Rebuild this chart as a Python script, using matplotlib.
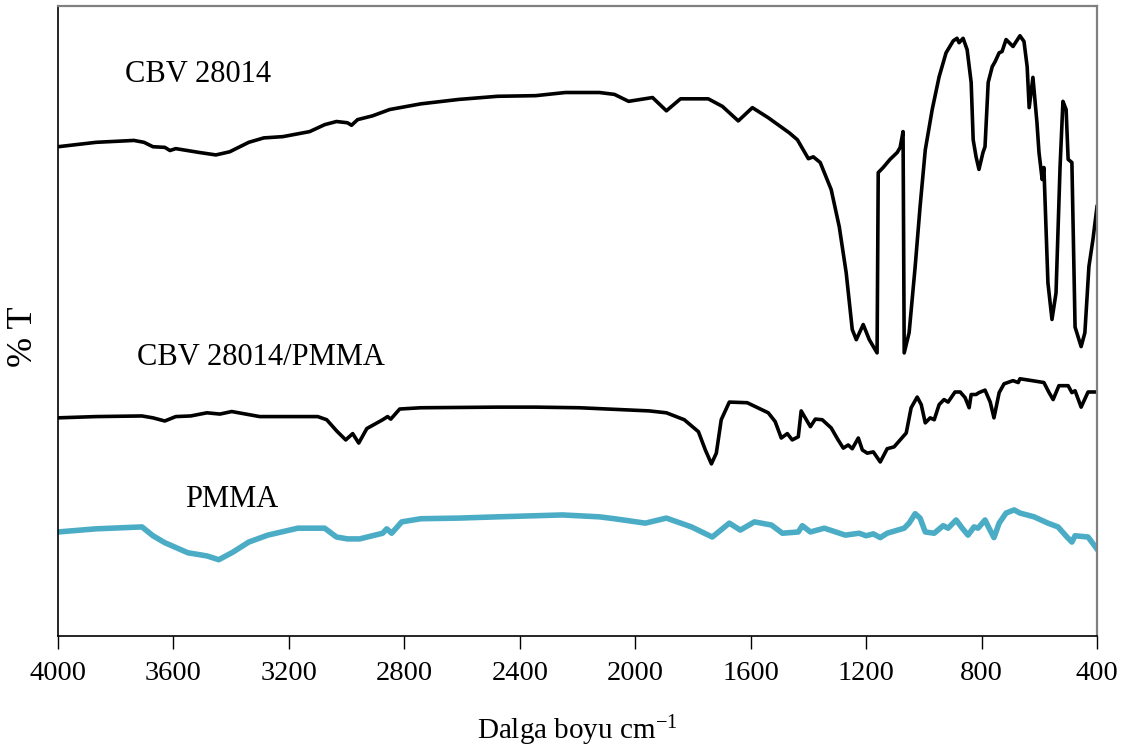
import numpy as np
import matplotlib
matplotlib.use("Agg")
import matplotlib.pyplot as plt

plt.rcParams.update(
    {
        "font.family": ["Liberation Serif", "DejaVu Serif"],
        "mathtext.fontset": "custom",
        "mathtext.rm": "Liberation Serif",
        "mathtext.it": "Liberation Serif:italic",
    }
)

# CBV 28014 (zeolite)
cbv_wn = [4000, 3868, 3737, 3702, 3671, 3630, 3612, 3592, 3512, 3453, 3405, 3339, 3287, 3221,
          3128, 3076, 3035, 2997, 2983, 2962, 2910, 2851, 2743, 2612, 2477, 2345, 2242, 2124,
          2072, 2023, 1940, 1892, 1843, 1747, 1698, 1643, 1594, 1539, 1466, 1438, 1400, 1383,
          1359, 1321, 1293, 1269, 1248, 1234, 1210, 1189, 1162, 1158, 1141, 1117, 1092, 1082,
          1072, 1068, 1051, 1030, 1013, 995, 971, 947, 923, 898, 885, 878, 864, 850, 836, 829,
          819, 809, 795, 788, 777, 763, 753, 739, 729, 715, 691, 667, 653, 642, 635, 622, 608,
          601, 590, 584, 570, 556, 542, 528, 518, 507, 500, 487, 476, 455, 442, 428, 414, 400]
cbv_t = [77.6, 78.3, 78.6, 78.3, 77.6, 77.5, 77.0, 77.3, 76.7, 76.3, 76.8, 78.3, 79.0, 79.2,
         80.0, 81.1, 81.6, 81.4, 81.0, 81.9, 82.5, 83.5, 84.4, 85.1, 85.6, 85.7, 86.2, 86.2,
         85.9, 84.8, 85.4, 83.3, 85.2, 85.2, 84.0, 81.7, 83.8, 82.2, 79.8, 78.7, 75.7, 76.0,
         75.1, 70.8, 64.9, 57.6, 48.6, 47.0, 49.4, 47.0, 44.9, 73.5, 74.3, 75.6, 76.7, 77.5,
         80.0, 44.9, 48.1, 58.6, 68.1, 77.1, 83.5, 88.7, 92.5, 94.4, 94.8, 94.1, 94.8, 93.0,
         87.8, 78.7, 76.0, 74.0, 76.7, 77.6, 87.8, 90.3, 91.1, 92.5, 92.7, 94.6, 93.5, 95.2,
         94.3, 90.3, 83.8, 88.6, 81.4, 76.7, 72.4, 74.3, 56.0, 50.2, 54.4, 74.4, 84.8, 83.5,
         75.6, 75.1, 49.0, 45.9, 48.1, 58.6, 62.9, 68.1]

# CBV 28014/PMMA composite
comp_wn = [4000, 3868, 3709, 3671, 3630, 3592, 3540, 3484, 3439, 3398, 3301, 3100, 3069, 3034,
           3003, 2979, 2958, 2930, 2875, 2858, 2847, 2816, 2743, 2477, 2345, 2193, 1951, 1892,
           1830, 1781, 1757, 1736, 1719, 1702, 1674, 1612, 1539, 1515, 1494, 1473, 1456, 1435,
           1425, 1411, 1393, 1376, 1352, 1321, 1297, 1279, 1262, 1248, 1227, 1213, 1196, 1175,
           1151, 1127, 1103, 1061, 1044, 1023, 1009, 995, 978, 964, 947, 930, 916, 892, 874,
           857, 843, 836, 819, 809, 788, 770, 757, 739, 722, 691, 673, 667, 625, 584, 566, 552,
           532, 500, 487, 476, 455, 431, 400]
comp_t = [34.6, 34.8, 34.9, 34.6, 34.1, 34.8, 34.9, 35.4, 35.2, 35.6, 34.8, 34.8, 34.3, 32.5,
          31.1, 32.1, 30.6, 32.9, 34.3, 34.8, 34.4, 36.0, 36.2, 36.3, 36.3, 36.2, 35.7, 35.4,
          34.3, 32.4, 29.5, 27.3, 29.0, 34.3, 37.1, 37.0, 35.4, 34.0, 31.4, 32.1, 31.1, 31.6,
          35.7, 34.6, 33.2, 34.4, 34.3, 33.0, 31.1, 29.8, 30.3, 29.7, 31.4, 29.5, 29.0, 29.2,
          27.6, 29.7, 30.0, 32.2, 36.2, 37.9, 36.7, 33.8, 34.6, 34.3, 36.7, 37.5, 37.1, 38.7,
          38.7, 37.8, 36.2, 38.3, 38.3, 38.6, 39.0, 37.1, 34.6, 38.6, 40.0, 40.5, 40.2, 40.8,
          40.5, 40.2, 38.6, 37.5, 39.7, 39.7, 38.6, 38.9, 36.3, 38.7, 38.7]

# PMMA
pmma_wn = [4000, 3868, 3709, 3671, 3630, 3550, 3484, 3443, 3394, 3339, 3273, 3169, 3076, 3035,
           2997, 2955, 2875, 2861, 2844, 2809, 2743, 2612, 2477, 2252, 2124, 2072, 1965, 1892,
           1805, 1733, 1674, 1636, 1587, 1528, 1490, 1435, 1421, 1393, 1345, 1272, 1224, 1200,
           1175, 1151, 1127, 1068, 1051, 1030, 1013, 995, 964, 933, 916, 888, 867, 847, 826,
           812, 788, 774, 757, 739, 715, 687, 667, 618, 570, 535, 504, 487, 476, 431, 400]
pmma_t = [16.5, 17.0, 17.3, 15.9, 14.8, 13.2, 12.7, 12.1, 13.3, 14.9, 16.0, 17.1, 17.1, 15.7,
          15.4, 15.4, 16.3, 17.0, 16.3, 18.1, 18.6, 18.7, 18.9, 19.2, 18.9, 18.6, 17.9, 18.7,
          17.3, 15.7, 17.9, 16.8, 18.1, 17.6, 16.3, 16.5, 17.5, 16.5, 17.1, 16.0, 16.3, 15.9,
          16.2, 15.6, 16.3, 17.1, 17.9, 19.4, 18.7, 16.5, 16.3, 17.5, 17.1, 18.4, 17.1, 16.0,
          17.3, 17.1, 18.4, 17.1, 15.6, 17.9, 19.5, 20.0, 19.5, 18.9, 17.9, 17.3, 15.7, 14.9,
          15.9, 15.7, 13.8]

labels = ["CBV 28014", "CBV 28014/PMMA", "PMMA"]
xticks = [4000, 3600, 3200, 2800, 2400, 2000, 1600, 1200, 800, 400]

fig = plt.figure(figsize=(11.28, 7.51), dpi=100)
ax = fig.add_axes([58 / 1128, 115 / 751, 1039 / 1128, 630.5 / 751])

ax.plot(cbv_wn, cbv_t, color="black", lw=2.6, solid_joinstyle="round")
ax.plot(comp_wn, comp_t, color="black", lw=2.6, solid_joinstyle="round")
ax.plot(pmma_wn, pmma_t, color="#4BACC6", lw=4, solid_joinstyle="round")

ax.text(3768, 87.9, labels[0], fontsize=22, ha="left", va="baseline")
ax.text(3727, 43.0, labels[1], fontsize=22, ha="left", va="baseline")
ax.text(3560, 20.5, labels[2], fontsize=22, ha="left", va="baseline")

ax.set_xlim(4000, 400)
ax.set_ylim(0, 100)
ax.set_xticks(xticks)
ax.set_xticklabels([str(t) for t in xticks])
ax.set_yticks([])
ax.tick_params(axis="x", direction="out", length=9, width=1, labelsize=20.5, pad=9)

ax.spines["left"].set_color("black")
ax.spines["bottom"].set_color("black")
ax.spines["left"].set_linewidth(1.2)
ax.spines["bottom"].set_linewidth(1.2)
ax.spines[["top", "right"]].set_color("#808080")
ax.spines[["top", "right"]].set_linewidth(1.6)

ax.set_xlabel("Dalga boyu cm$^{\\mathrm{-1}}$", fontsize=21, labelpad=20)
ax.set_ylabel("% T", fontsize=26, va="center")
ax.yaxis.set_label_coords(-0.033, 0.474)

fig.savefig("out.png", dpi=100)
